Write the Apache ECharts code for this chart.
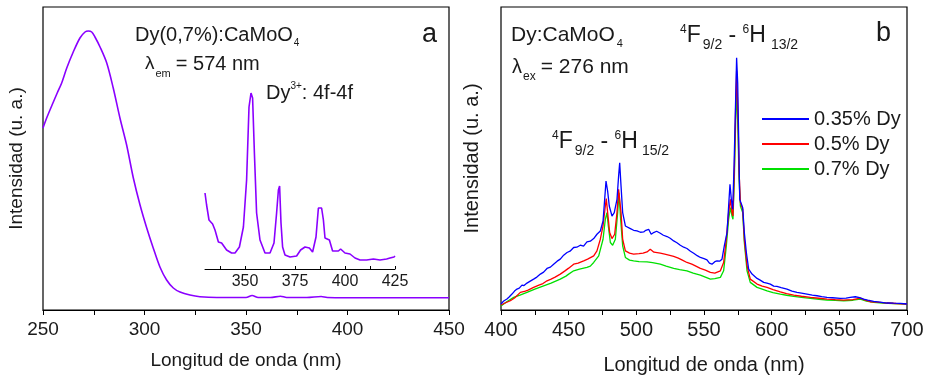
<!DOCTYPE html>
<html><head><meta charset="utf-8">
<script src="https://cdn.jsdelivr.net/npm/echarts@6.0.0/dist/echarts.min.js"></script>
<style>html,body{margin:0;padding:0;background:#fff}#c{width:928px;height:380px}</style>
</head><body><div id="c"></div>
<script>
// ---- Panel a: excitation spectrum ----
const excX = [250,251.8,255.1,257,259.2,261.7,264.9,268.2,270.7,272.3,274,275.6,278.1,281.4,284.6,287.9,291.2,294.5,297.8,301.1,304.3,307.6,310.9,314.2,317.5,322.4,327.3,335.6,345,350,353,356,362,367,370,380,387,390,400,420,440,450];
const excY = [182,192,208,217,227,242,258,272,278,279,278,273,263,247,222,192,165,132,105,82,62,43,30,22,18,15,13.3,12.5,12.5,12.5,14.5,12.5,12.5,13.8,12.5,12.5,13.5,12.5,12.3,12.3,12.3,12.3];
// inset (zoom 330-425 nm)
const insetX = [330,330.8,332,333.8,335,336.7,338.3,340.8,343.3,345,347.2,349.2,350.8,352,353,353.8,354.7,355.8,357.5,360,362.5,364.5,365.8,366.7,367.3,368,368.8,370,372.5,375.8,377.8,380,382.2,383.8,385.5,386.7,388.3,389.2,390,392.2,393.8,396.7,397.8,400,402.5,405,407.5,410.8,414.2,417.5,420.8,422.5,424.5,425];
const insetY = [76,64,49,45,39,27,26,19,16,16,22,42,89,162,176,171,116,56,29,16,16,26,56,79,83,46,22,14,12,13,19,22,21,17,32,61,61,49,31,29,18,18,20,16,15,11,9,9,10,9,10,11,12,13];
const insetTicks = [337.5,350,362.5,375,387.5,400,412.5,425];
const insetLabels = [350,375,400,425];

// ---- Panel b: emission spectra ----
const seriesNames = ['0.35% Dy','0.5% Dy','0.7% Dy'];
const blueX = [400,402,404.4,406,408.1,410,411.8,413.5,415.5,417,419.2,421,424.1,426.5,429.1,431.5,434,436.5,438.9,441.5,443.8,445,446.3,447.5,448.8,451,453.7,456,458.6,461,463.5,466,468.5,470.9,473.4,475.4,476.6,477.6,478.8,480,482,483.7,485.7,486.9,487.7,488.7,489.9,491.9,495.6,498,500.5,503,505.4,507,509.1,511,512.8,515,517.7,520,522.7,525,527.6,530,532.5,535,537.4,540,542.4,545,547.3,550,552.2,554,555.9,558,559.6,561.5,563.3,565,567,568.2,569.2,570.2,571.2,572.2,573.2,574.1,574.9,575.6,576.4,577.3,578.6,579.8,581.3,583,585.5,589.2,591.5,594.1,596.5,599,601.5,603.9,607,611.3,615,618.7,622,626.1,630,633.5,637,640.9,645,650.7,655,658.1,661.8,665,668,671,675.4,680,685.2,690,695.1,700];
const blueY = [6,9,11,13,16,19,21,22,25,24.5,27,28.5,31,33,36,38,41.7,43,46,49,51,52,55,53.5,57.7,59,62.7,63,65,64,68.3,69,71.7,76,79.3,89.3,111,129.3,119.3,104.3,94.3,97.7,111,134.3,147.7,124.3,97.7,84.3,81.7,80,79.3,78,78.3,80,81,76,77.7,79,77,75,73.7,72,69.3,67.5,65,63,61.7,59,57,54.5,52.7,51.5,50.3,47,46,48.5,49.3,49,51,64.3,77.7,104.3,126,111,101,144.3,201,253,227.7,174.3,111,107.7,102.7,77.7,57.7,41,36,31.7,30,27.7,27,26,24,23.7,22.5,21,19,17.7,17,16,15,14.3,13.5,12.7,12.3,11.7,12,12.7,13.3,12.5,11,10,8.7,8,7,6.8,6.7,6];
const redX = [400,403,406.9,410,414.3,418,420,424.1,428,431,434,437,440,443.8,447,450,453.7,457,461.1,464,468.5,470.9,473.4,475.4,477.1,477.8,478.8,480.3,482,484,485.7,486.9,488.7,489.9,491.9,495,498,502,505,507.9,510.3,513,517.7,521,524,527.6,531,534,537.4,541,544,547.3,551,554.7,558,562.1,564.5,566.5,568.2,569.5,570.7,571.4,572.4,573.4,574.1,575.1,575.9,576.9,578.6,579.8,581.8,584.2,589.2,593,596.6,601,606.4,611,616.3,622,628.6,635,640.9,647,653.2,660,665.5,668,672.9,678,685.2,692,700];
const redY = [5,7,9.3,12,17.7,19,20,22.7,25,26.5,29.3,31,33,36,39,42,46,47,49.3,51,54.3,59.3,71,84.3,104.3,111.7,97.7,77.7,71.7,76,97.7,121,97.7,71,59.3,57,56,56.5,57,58.3,61,58,57,56,55,53.7,52,50,47.7,46,44,41.7,40,37.7,37,39.3,47.7,71,97.7,111,97.7,94.3,140,205,240,195,140,107.7,101,71,44.3,31,26,24,22.7,20.5,18.3,16.5,15,13.8,12.7,11.8,11,10.5,10,10.5,12,10.5,8.3,7.8,7,6.5,6];
const greenX = [400,404,409.4,414,419.2,425,431.5,437,443.8,448,450,453.7,458,463.5,466,468.5,472.2,475.4,477.1,478.3,479.3,480.8,482.5,484.5,486.2,487.2,488.4,489.9,491.9,495,498,502,507.9,512,517.7,522,527.6,532,537.4,542,547.3,551,554.7,558,562.1,564.5,566.5,568.2,569.5,570.7,571.4,572.4,573.4,574.1,575.1,575.9,576.9,578.6,579.8,581.8,584.2,589.2,593,596.6,601,606.4,611,616.3,622,628.6,635,640.9,647,653.2,660,665.5,670,675.4,682,690,700];
const greenY = [4,8,12.7,15,17.7,21,24.3,27,31,34,36,39.3,41,42.7,44,47.7,54.3,71,91,97.7,84.3,67.7,65,71,97.7,117.7,91,64.3,52.7,50,49.3,48.5,48.3,47.5,46,44,41.7,40.5,39.3,37,35,33,31,31.5,32.7,39.3,64.3,91,102.7,94.3,91,131,190,222,180,131,104.3,97.7,67.7,39.3,27.7,22.7,21,19.3,17.5,16,14.8,13.7,12.7,11.7,10.8,10,9.6,9.3,9.8,11,9,7.7,7,6.5,6];

const zip = (xs, ys) => xs.map((x, i) => [x, ys[i]]);
const FONT = 'Liberation Sans';
const TXT = '#1a1a1a';

const mctx = document.createElement('canvas').getContext('2d');
function measure(text, size) { mctx.font = size + 'px ' + FONT; return mctx.measureText(text).width; }
// runs of text with sub/superscripts: [text, size, dy, gapBefore]
function runs(x, y, parts) {
  const out = [];
  let cx = x;
  parts.forEach(p => {
    cx += (p[3] || 0);
    out.push({ type: 'text', x: cx, y: y + (p[2] || 0), silent: true,
      style: { text: p[0], fontSize: p[1], fontFamily: FONT, fill: TXT, align: 'left', verticalAlign: 'middle' } });
    cx += measure(p[0], p[1]);
  });
  return out;
}

const chart = echarts.init(document.getElementById('c'), null, { renderer: 'canvas' });

const mainX = (gi, min, max, name, fs, gap) => ({
  type: 'value', gridIndex: gi, min: min, max: max, interval: 50,
  name: name, nameLocation: 'middle', nameGap: gap,
  nameTextStyle: { fontSize: fs, fontFamily: FONT, color: TXT },
  axisLine: { show: true, lineStyle: { color: '#000', width: 1.2 } },
  axisTick: { show: true, inside: false, length: 5, lineStyle: { color: '#000', width: 1 } },
  minorTick: { show: true, splitNumber: 2, length: 5, lineStyle: { color: '#000', width: 1 } },
  minorSplitLine: { show: false },
  splitLine: { show: false },
  axisLabel: { fontSize: fs, fontFamily: FONT, color: TXT, margin: 10, showMinLabel: true, showMaxLabel: true }
});
const hiddenY = (gi, max, name, gap, fs) => ({
  type: 'value', gridIndex: gi, min: 0, max: max,
  name: name || '', nameLocation: 'middle', nameRotate: 90, nameGap: gap || 0,
  nameTextStyle: { fontSize: fs || 19, fontFamily: FONT, color: TXT },
  axisLine: { show: false }, axisTick: { show: false }, axisLabel: { show: false }, splitLine: { show: false }
});

const graphics = [].concat(
  runs(135, 35, [['Dy(0,7%):CaMoO', 20], ['4', 10, 8, 1]]),
  runs(145, 64, [['λ', 19], ['em', 11, 10, 1], ['= 574 nm', 20, 0, 5]]),
  runs(266, 93, [['Dy', 20], ['3+', 10, -7, 0], [': 4f-4f', 20, 0, 0]]),
  runs(422, 35, [['a', 27]]),
  runs(511, 35, [['Dy:CaMoO', 21], ['4', 11, 9, 2]]),
  runs(512, 67, [['λ', 20], ['ex', 12, 10, 1], ['= 276 nm', 21, 0, 5]]),
  runs(680, 36, [['4', 12, -6], ['F', 23], ['9/2', 14, 9, 2], [' - ', 23, 0, 0], ['6', 12, -6], ['H', 23], ['13/2', 14, 9, 5]]),
  runs(552, 142, [['4', 12, -6], ['F', 23], ['9/2', 14, 9, 2], [' - ', 23, 0, 0], ['6', 12, -6], ['H', 23], ['15/2', 14, 9, 4]]),
  runs(876, 34, [['b', 27]])
);

chart.setOption({
  animation: false,
  backgroundColor: '#fff',
  grid: [
    { left: 43, top: 7, width: 406, height: 303, show: true, borderColor: '#000', borderWidth: 1.2, backgroundColor: 'transparent' },
    { left: 205, top: 89, width: 190, height: 180, show: false },
    { left: 501, top: 7, width: 406, height: 304, show: true, borderColor: '#000', borderWidth: 1.2, backgroundColor: 'transparent' }
  ],
  xAxis: [
    mainX(0, 250, 450, 'Longitud de onda (nm)', 19, 41),
    {
      type: 'value', gridIndex: 1, min: 330, max: 425,
      axisLine: { show: true, lineStyle: { color: '#000', width: 1 } },
      axisTick: { show: true, inside: true, length: 3, customValues: insetTicks, lineStyle: { color: '#000' } },
      axisLabel: { fontSize: 16, fontFamily: FONT, color: TXT, margin: 5, customValues: insetLabels },
      splitLine: { show: false }
    },
    mainX(2, 400, 700, 'Longitud de onda (nm)', 20, 45)
  ],
  yAxis: [
    hiddenY(0, 303, 'Intensidad (u. a.)', 17, 19),
    hiddenY(1, 180),
    hiddenY(2, 304, 'Intensidad (u. a.)', 19, 20)
  ],
  legend: {
    data: seriesNames, orient: 'vertical', left: 757, top: 104,
    icon: 'rect', itemWidth: 47, itemHeight: 2, itemGap: 5,
    textStyle: { fontSize: 20, fontFamily: FONT, color: TXT, lineHeight: 20 },
    selectedMode: false
  },
  series: [
    { type: 'line', name: 'exc', xAxisIndex: 0, yAxisIndex: 0, data: zip(excX, excY), symbol: 'none', smooth: 0.3,
      lineStyle: { color: '#8a00ff', width: 1.6 } },
    { type: 'line', name: 'inset', xAxisIndex: 1, yAxisIndex: 1, data: zip(insetX, insetY), symbol: 'none',
      lineStyle: { color: '#8a00ff', width: 1.6 } },
    { type: 'line', name: seriesNames[2], xAxisIndex: 2, yAxisIndex: 2, data: zip(greenX, greenY), symbol: 'none', z: 3,
      itemStyle: { color: '#00e000' }, lineStyle: { color: '#00e000', width: 1.3 } },
    { type: 'line', name: seriesNames[1], xAxisIndex: 2, yAxisIndex: 2, data: zip(redX, redY), symbol: 'none', z: 4,
      itemStyle: { color: '#ff0000' }, lineStyle: { color: '#ff0000', width: 1.3 } },
    { type: 'line', name: seriesNames[0], xAxisIndex: 2, yAxisIndex: 2, data: zip(blueX, blueY), symbol: 'none', z: 5,
      itemStyle: { color: '#0000ff' }, lineStyle: { color: '#0000ff', width: 1.3 } }
  ],
  graphic: graphics
});
</script>
</body></html>
